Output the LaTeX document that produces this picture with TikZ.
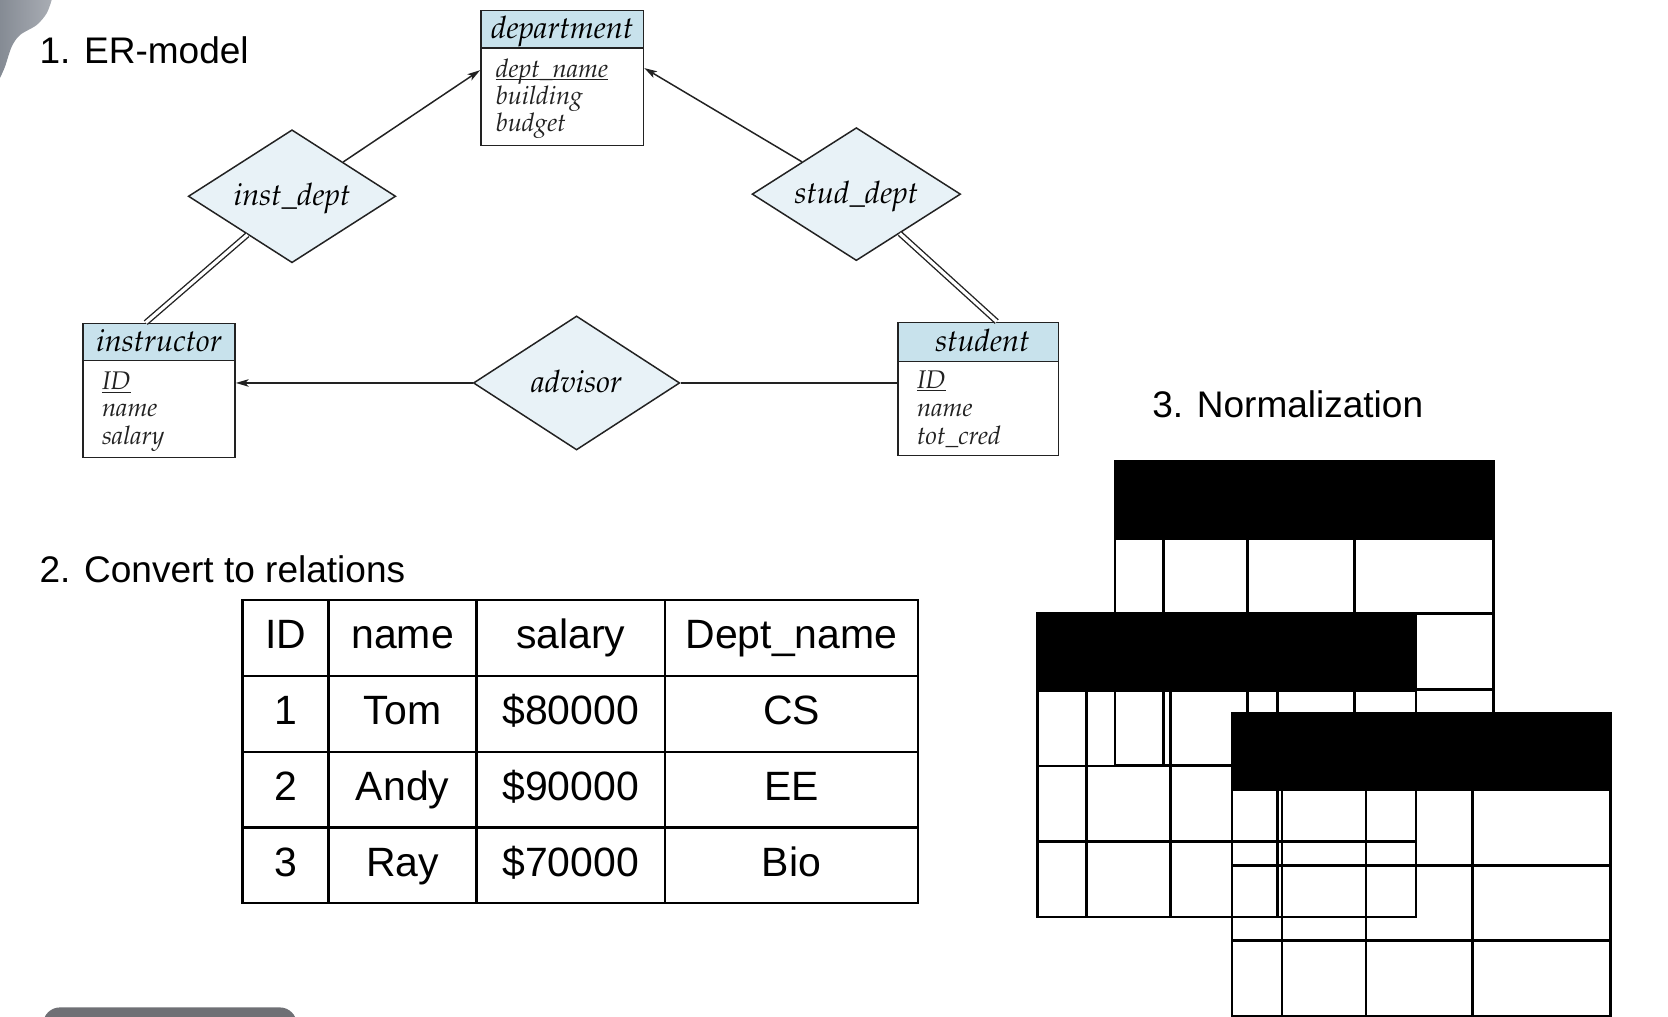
\documentclass[tikz,border=0pt]{standalone}
\usepackage[T1]{fontenc}
\usepackage{fontspec}
\setmainfont{Liberation Sans}
\usetikzlibrary{shapes.geometric,arrows.meta,calc}
\newcommand{\erit}{\fontencoding{T1}\fontfamily{ppl}\fontshape{it}\selectfont}
\definecolor{erdark}{HTML}{222222}
\definecolor{hdrblue}{HTML}{C8E2EC}
\definecolor{diafill}{HTML}{E8F2F7}
\definecolor{cornerdark}{HTML}{858B94}
\definecolor{cornerlight}{HTML}{A9ADB4}
\definecolor{pillgray}{HTML}{6F7075}
\newcommand{\normtab}[3]{%
  \fill[black] (#1,#2) rectangle ($(#1,#2)+(356,72)$);
  \draw[ntab] (#1,#2) rectangle ($(#1,#2)+(356,285)$);
  \foreach \dy in {72,143,214} \draw[ntab] ($(#1,#2)+(0,\dy)$) -- ($(#1,#2)+(356,\dy)$);
  \foreach \dx in {#3} \draw[ntab] ($(#1,#2)+(\dx,72)$) -- ($(#1,#2)+(\dx,285)$);
}
\begin{document}
\begin{tikzpicture}[x=1pt,y=-1pt,
  erline/.style={draw=erdark, line width=1.4pt},
  arr/.style={erline, -{Stealth[length=12pt,width=7pt,inset=3pt]}},
  dbl/.style={draw=erdark, line width=1.3pt, double=white, double distance=3pt},
  hdr/.style={draw=erdark, line width=1.4pt, fill=hdrblue, inner sep=0pt,
    font={\erit\fontsize{29}{30}\selectfont}, text height=20pt, text depth=3pt},
  ebody/.style={draw=erdark, line width=1.4pt, fill=white, inner sep=0pt},
  rel/.style={diamond, aspect=1.56, draw=erdark, line width=1.4pt, fill=diafill, inner sep=0pt,
    font={\erit\fontsize{29}{30}\selectfont}, text height=20pt, text depth=3pt},
  attr/.style={anchor=base west, inner sep=0pt, text=erdark, font={\erit\fontsize{24}{26}\selectfont}},
  ul/.style={draw=erdark, line width=1pt},
  title/.style={anchor=base west, inner sep=0pt, font={\fontsize{34.8}{40}\selectfont}},
  tbl/.style={draw=black, line width=2.5pt},
  cell/.style={anchor=base, inner sep=0pt, font={\fontsize{38.5}{42}\selectfont}},
  ntab/.style={draw=black, line width=2.5pt}]
\useasboundingbox (0,0) rectangle (1568,956);
\clip (0,0) rectangle (1568,956);

% slide decorations
\shade[left color=cornerdark, right color=cornerlight]
  (0,0) -- plot[smooth] coordinates {(48.6,0) (43.9,12.5) (34.5,23.5) (18.8,32.9) (11,43.9) (4.7,62.7) (0,73.3)} -- cycle;
\fill[pillgray, rounded corners=16pt] (40.4,947) rectangle (279,990);

% titles
\node[title] (t1) at (37,59.5) {1. ER-model};
\node[title] (t2) at (37,547.7) {2. Convert to relations};
\node[title] (t3) at (1083,392) {3. Normalization};

% ---------- ER model ----------
\node[ebody, minimum width=153pt, minimum height=92pt] (deptb) at (528.5,91) {};
\node[hdr, minimum width=153pt, minimum height=35pt] (dept) at (528.5,27.5) {department};
\node[attr] (dn) at (466,72.5) {dept\_name};
\draw[ul] ([yshift=-2.5pt]dn.base west) -- ([yshift=-2.5pt]dn.base east);
\node[attr] (db) at (466,98.7) {building};
\node[attr] (dg) at (466,123.8) {budget};

\node[ebody, minimum width=143pt, minimum height=91pt] (instrb) at (149.5,384.5) {};
\node[hdr, minimum width=143pt, minimum height=35pt] (instr) at (149.5,321.5) {instructor};
\node[attr] (iid) at (95.7,366.6) {ID};
\draw[ul] ([yshift=-2.5pt]iid.base west) -- ([yshift=-2.5pt]iid.base east);
\node[attr] (iname) at (95.7,391.6) {name};
\node[attr] (isal) at (95.7,418) {salary};

\node[ebody, minimum width=151pt, minimum height=88pt] (studb) at (919.5,384) {};
\node[hdr, minimum width=151pt, minimum height=37pt] (stud) at (919.5,321.5) {\hspace*{8pt}student};
\node[attr] (sid) at (862,365) {ID};
\draw[ul] ([yshift=-2.5pt]sid.base west) -- ([yshift=-2.5pt]sid.base east);
\node[attr] (sname) at (862,391.6) {name};
\node[attr] (scred) at (862,418) {tot\_cred};

\node[rel, minimum width=195pt, minimum height=125pt] (instdept) at (274.5,184.5) {inst\_dept};
\node[rel, minimum width=196pt, minimum height=125pt] (studdept) at (805,182.5) {stud\_dept};
\node[rel, minimum width=194pt, minimum height=126pt] (advisor) at (542,360) {advisor};

\draw[arr] (instdept) -- ([yshift=25pt]deptb.west);
\draw[arr] (studdept) -- ([yshift=27pt]deptb.east);
\draw[arr] (advisor.west) -- (instrb.east |- advisor.west);
\draw[erline] (advisor.east) -- (studb.west |- advisor.east);
\draw[dbl] (instdept) -- ([xshift=-12.5pt]instr.north);
\draw[dbl] (studdept) -- ([xshift=17.5pt]stud.north);

% ---------- relation table ----------
\draw[tbl] (228,564) rectangle (863,849);
\foreach \yy in {635.5,707,778} \draw[tbl] (228,\yy) -- (863,\yy);
\foreach \xx in {309,448,625} \draw[tbl] (\xx,564) -- (\xx,849);
\node[cell] (h1) at (268.5,610) {ID};
\node[cell] (h2) at (378.5,610) {name};
\node[cell] (h3) at (536.5,610) {salary};
\node[cell] (h4) at (744,610) {Dept\_name};
\node[cell] (a1) at (268.5,681.3) {1};
\node[cell] (a2) at (378.5,681.3) {Tom};
\node[cell] (a3) at (536.5,681.3) {\$80000};
\node[cell] (a4) at (744,681.3) {CS};
\node[cell] (b1) at (268.5,752.6) {2};
\node[cell] (b2) at (378.5,752.6) {Andy};
\node[cell] (b3) at (536.5,752.6) {\$90000};
\node[cell] (b4) at (744,752.6) {EE};
\node[cell] (c1) at (268.5,823.9) {3};
\node[cell] (c2) at (378.5,823.9) {Ray};
\node[cell] (c3) at (536.5,823.9) {\$70000};
\node[cell] (c4) at (744,823.9) {Bio};

% ---------- normalization tables ----------
\normtab{1048}{434}{46,125,225.5}
\normtab{975.2}{577}{46,125,225.5}
\normtab{1158.1}{670.3}{47,126,226}
\end{tikzpicture}
\end{document}
